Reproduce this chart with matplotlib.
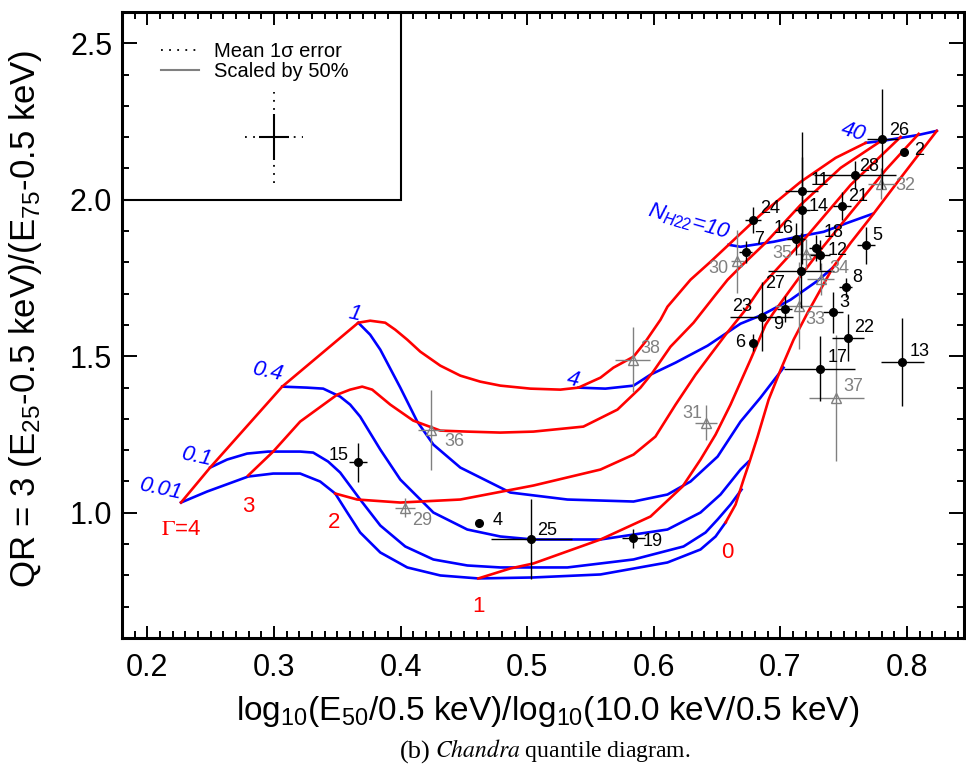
import matplotlib
matplotlib.use("Agg")
import matplotlib.pyplot as plt
from matplotlib import font_manager
from matplotlib.lines import Line2D
from matplotlib.patches import Rectangle
from matplotlib.ticker import MultipleLocator

plt.rcParams['font.family'] = ['Liberation Sans', 'DejaVu Sans']
plt.rcParams['mathtext.fontset'] = 'custom'
plt.rcParams['mathtext.rm'] = 'Liberation Sans'
plt.rcParams['mathtext.it'] = 'Liberation Sans:italic'

installed = {f.name for f in font_manager.fontManager.ttflist}
narrow = 'Liberation Sans Narrow' if 'Liberation Sans Narrow' in installed else 'Liberation Sans'

# ---- model grid, constant photon index (red) ----
g4_x = [0.2266, 0.2496, 0.3065, 0.3666, 0.3760, 0.3879, 0.3958, 0.4053, 0.4156, 0.4314,
        0.4472, 0.4630, 0.4788, 0.5025, 0.5262, 0.5405, 0.5579, 0.5681, 0.5840, 0.5934,
        0.6053, 0.6108, 0.6290, 0.6448, 0.6591, 0.6843, 0.7160, 0.7436, 0.7674]
g4_y = [1.0328, 1.1445, 1.4031, 1.6073, 1.6137, 1.6073, 1.5850, 1.5531, 1.5148, 1.4701,
        1.4382, 1.4190, 1.4063, 1.3967, 1.3935, 1.3999, 1.4318, 1.4637, 1.4988, 1.5467,
        1.6169, 1.6584, 1.7446, 1.8020, 1.8563, 1.9521, 2.0574, 2.1340, 2.1819]
g3_x = [0.2796, 0.2994, 0.3207, 0.3500, 0.3602, 0.3697, 0.3776, 0.3919, 0.4100, 0.4314,
        0.4527, 0.4788, 0.5049, 0.5444, 0.5713, 0.5895, 0.5990, 0.6132, 0.6314, 0.6488,
        0.6583, 0.6685, 0.6883, 0.7160, 0.7476, 0.7808]
g3_y = [1.1190, 1.1956, 1.2914, 1.3776, 1.3935, 1.4031, 1.3935, 1.3456, 1.2946, 1.2626,
        1.2594, 1.2563, 1.2594, 1.2754, 1.3297, 1.3999, 1.4478, 1.5307, 1.6073, 1.6967,
        1.7446, 1.7861, 1.8627, 1.9840, 2.1021, 2.1915]
g2_x = [0.3484, 0.3658, 0.3998, 0.4472, 0.5049, 0.5579, 0.5840, 0.6013, 0.6172, 0.6330,
        0.6448, 0.6567, 0.6725, 0.6859, 0.7199, 0.7555, 0.7950]
g2_y = [1.0616, 1.0424, 1.0328, 1.0424, 1.0871, 1.1382, 1.1860, 1.2435, 1.3456, 1.4414,
        1.5052, 1.5690, 1.6488, 1.7286, 1.8787, 2.0478, 2.2010]
g1_x = [0.4614, 0.4867, 0.5049, 0.5579, 0.5974, 0.6227, 0.6369, 0.6488, 0.6606, 0.6764,
        0.6883, 0.6946, 0.7136, 0.7318, 0.7555, 0.7832, 0.8092]
g1_y = [0.7903, 0.8222, 0.8381, 0.9147, 0.9881, 1.0839, 1.1701, 1.2499, 1.3456, 1.4893,
        1.6010, 1.6393, 1.7446, 1.8404, 1.9584, 2.0957, 2.2106]
g0_x = [0.6567, 0.6646, 0.6709, 0.6749, 0.6820, 0.6907, 0.7002, 0.7104, 0.7215, 0.7413,
        0.7555, 0.7729, 0.7950, 0.8235]
g0_y = [0.9690, 1.0264, 1.1062, 1.1541, 1.2435, 1.3616, 1.4573, 1.5531, 1.6393, 1.7829,
        1.8627, 1.9521, 2.0702, 2.2202]

# ---- model grid, constant N_H (blue) ----
nh001_x = [0.2266, 0.2472, 0.2796, 0.2994, 0.3207, 0.3365, 0.3484, 0.3579, 0.3681, 0.3840,
           0.4053, 0.4314, 0.4614, 0.5049, 0.5579, 0.6108, 0.6369, 0.6488, 0.6567]
nh001_y = [1.0328, 1.0679, 1.1158, 1.1254, 1.1254, 1.0999, 1.0616, 1.0009, 0.9371, 0.8732,
           0.8254, 0.7998, 0.7903, 0.7934, 0.8030, 0.8413, 0.8828, 0.9243, 0.9690]
nh01_x = [0.2496, 0.2630, 0.2788, 0.2954, 0.3207, 0.3310, 0.3428, 0.3523, 0.3681, 0.3840,
          0.4037, 0.4259, 0.4527, 0.4788, 0.5318, 0.5840, 0.6235, 0.6409, 0.6504, 0.6606,
          0.6693]
nh01_y = [1.1445, 1.1701, 1.1892, 1.1956, 1.1956, 1.1924, 1.1637, 1.1286, 1.0424, 0.9594,
          0.8924, 0.8509, 0.8317, 0.8254, 0.8254, 0.8509, 0.8924, 0.9371, 0.9786, 1.0264,
          1.0743]
nh04_x = [0.3065, 0.3262, 0.3389, 0.3523, 0.3602, 0.3681, 0.3840, 0.3998, 0.4259, 0.4527,
          0.4788, 0.5049, 0.5579, 0.6108, 0.6369, 0.6527, 0.6685, 0.6749]
nh04_y = [1.4031, 1.3999, 1.3967, 1.3712, 1.3456, 1.3073, 1.2020, 1.1062, 1.0009, 0.9466,
          0.9243, 0.9147, 0.9147, 0.9466, 1.0009, 1.0584, 1.1382, 1.1637]
nh1_x = [0.3666, 0.3760, 0.3840, 0.3998, 0.4132, 0.4259, 0.4472, 0.4867, 0.5318, 0.5840,
         0.6108, 0.6290, 0.6504, 0.6685, 0.6843, 0.7025]
nh1_y = [1.6073, 1.5690, 1.5212, 1.3999, 1.2914, 1.2180, 1.1445, 1.0647, 1.0424, 1.0360,
         1.0584, 1.0999, 1.1796, 1.2914, 1.3680, 1.4637]
nh4_x = [0.5405, 0.5618, 0.5840, 0.5974, 0.6172, 0.6425, 0.6685, 0.6859, 0.7081, 0.7294, 0.7413]
nh4_y = [1.3999, 1.3967, 1.4063, 1.4414, 1.4797, 1.5339, 1.6042, 1.6329, 1.6808, 1.7414, 1.7829]
nh10_x = [0.6591, 0.6685, 0.6946, 0.7136, 0.7342, 0.7531, 0.7729]
nh10_y = [1.8563, 1.8499, 1.8659, 1.8818, 1.8978, 1.9265, 1.9553]
nh40_x = [0.7674, 0.7808, 0.7950, 0.8092, 0.8235]
nh40_y = [2.1819, 2.1883, 2.1978, 2.2074, 2.2202]

# ---- sources: filled circles ----
ids_b = [26, 2, 28, 11, 14, 21, 24, 16, 18, 12, 7, 5, 27, 8, 3, 23, 9, 6, 22, 17, 13, 15, 4, 25, 19]
x_b = [0.7806, 0.7976, 0.7589, 0.7170, 0.7173, 0.7487, 0.6783, 0.7126, 0.7278, 0.7310, 0.6725,
       0.7674, 0.7160, 0.7516, 0.7418, 0.6851, 0.7034, 0.6786, 0.7534, 0.7310, 0.7964, 0.3663,
       0.4617, 0.5033, 0.5837]
y_b = [2.194, 2.152, 2.078, 2.027, 1.966, 1.979, 1.936, 1.875, 1.846, 1.824, 1.832, 1.854,
       1.774, 1.720, 1.640, 1.626, 1.651, 1.543, 1.559, 1.461, 1.481, 1.161, 0.967, 0.915, 0.918]
xerr_b = [0.012, 0.0, 0.032, 0.013, 0.006, 0.007, 0.006, 0.007, 0.005, 0.008, 0.005, 0.007,
          0.026, 0.005, 0.008, 0.025, 0.006, 0.0, 0.013, 0.028, 0.017, 0.007, 0.0, 0.032, 0.009]
yerr_b = [0.16, 0.0, 0.045, 0.19, 0.17, 0.045, 0.042, 0.05, 0.04, 0.048, 0.035, 0.06, 0.12,
          0.03, 0.064, 0.11, 0.043, 0.027, 0.075, 0.105, 0.14, 0.063, 0.0, 0.128, 0.03]

# ---- sources: open triangles (errors scaled by 50%) ----
ids_g = [32, 35, 30, 34, 33, 37, 38, 36, 31, 29]
x_g = [0.7797, 0.7205, 0.6659, 0.7318, 0.7146, 0.7442, 0.5834, 0.4240, 0.6414, 0.4037]
y_g = [2.051, 1.828, 1.803, 1.747, 1.662, 1.367, 1.489, 1.264, 1.287, 1.016]
xerr_g = [0.0105, 0.007, 0.0053, 0.0105, 0.0186, 0.0217, 0.0138, 0.010, 0.0087, 0.008]
yerr_g = [0.05, 0.048, 0.10, 0.05, 0.14, 0.20, 0.104, 0.128, 0.056, 0.03]

# mean 1 sigma error cross
mean_x, mean_y = 0.30, 2.20
mean_xerr, mean_yerr = 0.023, 0.146
scale = 0.5

# label offsets in points (dx, dy, ha)
off_b = [(4.5, 6.5, 'left'), (7, 1, 'left'), (3, 6.5, 'left'), (6.5, 8, 'left'),
         (4.5, 3, 'left'), (4.5, 7, 'left'), (5, 8, 'left'), (-2, 7.5, 'right'),
         (6, 11.5, 'left'), (6, 3, 'left'), (6, 9, 'left'), (5, 7, 'left'),
         (-11, -9.5, 'right'), (5, 7, 'left'), (4.5, 7, 'left'), (-6.5, 7.5, 'right'),
         (-0.7, -10.8, 'right'), (-5.5, 0, 'right'), (4.5, 7.5, 'left'), (6, 8, 'left'),
         (5, 8, 'left'), (-7, 5, 'right'), (10, 2, 'left'), (4.5, 6.5, 'left'), (6.5, -2, 'left')]
off_g = [(10, -1.5, 'left'), (-10, 0, 'right'), (-6.5, -5, 'right'), (6, 7.5, 'left'),
         (5, -10, 'left'), (5, 8, 'left'), (5.5, 8, 'left'), (10, -8.5, 'left'),
         (-3, 6.5, 'right'), (5, -9.5, 'left')]

RED = '#ff0000'
BLUE = '#0000ff'
GRAY = '#808080'

fig = plt.figure(figsize=(9.66, 7.73), dpi=100)
ax = fig.add_axes([122 / 966, 135 / 773, 842 / 966, 626 / 773])

for cx, cy in [(nh001_x, nh001_y), (nh01_x, nh01_y), (nh04_x, nh04_y), (nh1_x, nh1_y),
               (nh4_x, nh4_y), (nh10_x, nh10_y), (nh40_x, nh40_y)]:
    ax.plot(cx, cy, color=BLUE, lw=1.9, solid_joinstyle='round', zorder=2)
for cx, cy in [(g4_x, g4_y), (g3_x, g3_y), (g2_x, g2_y), (g1_x, g1_y), (g0_x, g0_y)]:
    ax.plot(cx, cy, color=RED, lw=1.9, solid_joinstyle='round', zorder=2)

# grid labels
blue_kw = dict(color=BLUE, fontsize=16, style='italic', ha='center', va='center')
ax.text(0.2100, 1.0743, '0.01', rotation=-12, **blue_kw)
ax.text(0.2385, 1.1796, '0.1', rotation=-12, **blue_kw)
ax.text(0.2946, 1.4510, '0.4', rotation=-12, **blue_kw)
ax.text(0.3634, 1.6361, '1', rotation=-12, **blue_kw)
ax.text(0.5365, 1.4254, '4', rotation=-12, **blue_kw)
ax.text(0.6274, 1.9297, r'$N_{\mathit{H22}}$=10', rotation=-16, **blue_kw)
ax.text(0.7579, 2.2170, '40', rotation=-16, **blue_kw)

red_kw = dict(color=RED, fontsize=16, ha='center', va='center')
ax.text(0.2266, 0.9467, r'$\Gamma$=4', math_fontfamily='stix', **red_kw)
ax.text(0.2796, 1.0200, '3', **red_kw)
ax.text(0.3476, 0.9690, '2', **red_kw)
ax.text(0.4614, 0.7009, '1', **red_kw)
ax.text(0.6583, 0.8732, '0', **red_kw)

# data points
ax.errorbar(x_g, y_g, xerr=xerr_g, yerr=yerr_g, fmt='^', ms=7, mfc='none', mec=GRAY,
            mew=1.0, ecolor=GRAY, elinewidth=1.0, capsize=0, zorder=3)
ax.errorbar(x_b, y_b, xerr=xerr_b, yerr=yerr_b, fmt='o', ms=5.5, color='black',
            ecolor='black', elinewidth=1.0, capsize=0, zorder=4)
for i, x, y, (dx, dy, ha) in zip(ids_b, x_b, y_b, off_b):
    ax.annotate(str(i), (x, y), xytext=(dx, dy), textcoords='offset points',
                ha=ha, va='center', fontsize=13, color='black', zorder=5)
for i, x, y, (dx, dy, ha) in zip(ids_g, x_g, y_g, off_g):
    ax.annotate(str(i), (x, y), xytext=(dx, dy), textcoords='offset points',
                ha=ha, va='center', fontsize=13, color=GRAY, zorder=5)

# legend box with the mean error cross
ax.add_patch(Rectangle((0.18, 2.0), 0.22, 0.6, fill=False, ec='black', lw=1.5, zorder=6))
dots = ax.errorbar(mean_x, mean_y, xerr=mean_xerr, yerr=mean_yerr, fmt='none',
                   ecolor='black', elinewidth=1.3, capsize=0, zorder=6)
dots[2][0].set_linestyle((0, (1, 3.5)))
dots[2][1].set_linestyle((0, (1, 3.5)))
ax.errorbar(mean_x, mean_y, xerr=mean_xerr * scale, yerr=mean_yerr * scale, fmt='none',
            ecolor='black', elinewidth=1.5, capsize=0, zorder=7)
handles = [Line2D([], [], color='black', lw=1.3, ls=(0, (1, 3.5))),
           Line2D([], [], color=GRAY, lw=1.5)]
ax.legend(handles, ['Mean 1\u03c3 error', 'Scaled by 50%'], loc='upper left',
          bbox_to_anchor=(0.027, 0.978), frameon=False, fontsize=14.5, handlelength=1.9,
          handletextpad=0.75, labelspacing=0.05, borderpad=0.3)

ax.set_xlim(0.18, 0.845)
ax.set_ylim(0.6, 2.6)
ax.xaxis.set_major_locator(MultipleLocator(0.1))
ax.xaxis.set_minor_locator(MultipleLocator(0.01))
ax.yaxis.set_major_locator(MultipleLocator(0.5))
ax.yaxis.set_minor_locator(MultipleLocator(0.1))
ax.tick_params(which='both', direction='in', top=True, right=True, width=1.4)
ax.tick_params(axis='x', which='major', length=9, labelsize=22, pad=11,
               labelfontfamily=narrow)
ax.tick_params(axis='y', which='major', length=11, labelsize=22, pad=7)
ax.tick_params(which='minor', length=5)
for s in ax.spines.values():
    s.set_linewidth(2.2)

ax.set_xlabel(r'log$_{10}$(E$_{50}$/0.5 keV)/log$_{10}$(10.0 keV/0.5 keV)',
              fontsize=28 if narrow != 'Liberation Sans' else 24, family=narrow)
ax.xaxis.set_label_coords(0.505, -0.09)
ax.set_ylabel(r'QR = 3 (E$_{25}$-0.5 keV)/(E$_{75}$-0.5 keV)', fontsize=25)
ax.yaxis.set_label_coords(-0.093, 0.51)

fig.text(431 / 966, 0.012, '(b)', family='Liberation Serif', fontsize=19,
         ha='right', va='bottom')
fig.text(435 / 966, 0.012, r'$\mathit{Chandra}$ quantile diagram.', family='Liberation Serif',
         math_fontfamily='stix', fontsize=17, ha='left', va='bottom')

fig.savefig('out.png', dpi=100)
